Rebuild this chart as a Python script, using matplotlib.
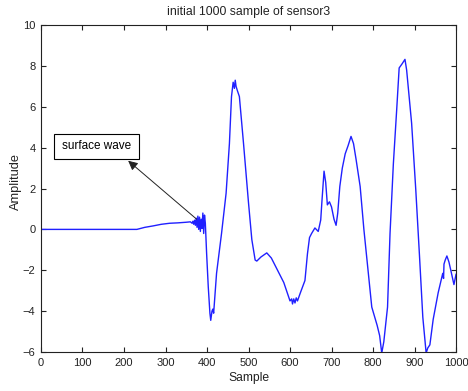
import matplotlib
matplotlib.use("Agg")
import matplotlib.pyplot as plt
from matplotlib.patches import Rectangle

plt.rcParams['font.family'] = ['Liberation Sans', 'DejaVu Sans']

title = "initial 1000 sample of sensor3"
xlabel = "Sample"
ylabel = "Amplitude"
annot_text = "surface wave"

sample = [0, 231, 250, 270, 290, 310, 330, 350, 360, 364, 366, 368, 370, 372, 374,
          376, 378, 380, 382, 384, 386, 388, 390, 392, 394, 396, 399, 403, 407, 409,
          412, 414, 416, 423, 435, 446, 454, 459, 463, 466, 468, 470, 473, 478, 488,
          500, 508, 516, 520, 530, 544, 555, 570, 585, 595, 600, 604, 606, 609, 612,
          615, 618, 625, 636, 642, 647, 652, 660, 668, 674, 677, 682, 686, 690, 695,
          700, 706, 711, 715, 720, 726, 733, 740, 747, 753, 759, 769, 778, 788, 797,
          810, 816, 821, 826, 835, 841, 849, 857, 863, 870, 877, 881, 893, 903, 912,
          920, 928, 932, 937, 945, 957, 968, 970, 971, 974, 978, 983, 987, 995, 1000]
amplitude = [0.0, 0.0, 0.1, 0.17, 0.25, 0.3, 0.32, 0.35, 0.37, 0.3, 0.4, 0.25, 0.45, 0.2, 0.55,
             0.1, 0.65, 0.0, 0.6, -0.1, 0.5, 0.05, 0.8, -0.2, 0.7, 0.3, -1.15, -2.8, -4.1, -4.45,
             -4.0, -3.9, -4.1, -2.15, -0.2, 1.77, 4.2, 6.5, 7.2, 6.9, 7.3, 7.0, 6.8, 6.5, 4.2,
             1.3, -0.5, -1.5, -1.55, -1.35, -1.15, -1.4, -2.0, -2.6, -3.2, -3.5, -3.4, -3.65, -3.4, -3.6,
             -3.35, -3.5, -3.1, -2.5, -1.2, -0.4, -0.2, 0.07, -0.1, 0.46, 1.4, 2.85, 2.3, 1.2, 1.35,
             1.1, 0.5, 0.2, 0.8, 2.1, 3.0, 3.7, 4.1, 4.55, 4.2, 3.45, 2.1, 0.0, -2.0, -3.8,
             -4.7, -5.2, -6.05, -5.5, -3.8, -0.2, 3.2, 5.84, 7.9, 8.1, 8.32, 7.8, 5.2, 1.95, -1.3,
             -4.3, -6.05, -5.8, -5.65, -4.4, -3.1, -2.15, -2.4, -1.7, -1.5, -1.3, -1.6, -1.96, -2.7, -2.2]

fig = plt.figure(figsize=(4.68, 3.91), dpi=100, facecolor='white')
ax = fig.add_axes([0.0876, 0.0997, 0.9744 - 0.0876, 0.936 - 0.0997])
ax.plot(sample, amplitude, color='#2020ff', linewidth=1.0)
ax.set_xlim(0, 1000)
ax.set_ylim(-6, 10)
ax.set_xticks(range(0, 1001, 100))
ax.set_yticks(range(-6, 11, 2))
ax.tick_params(direction='in', top=True, right=True, length=3.5, width=0.8,
               labelsize=8, colors='#222222')
ax.tick_params(axis='x', pad=4)
ax.tick_params(axis='y', pad=4)
for s in ax.spines.values():
    s.set_linewidth(0.8)
    s.set_color('#222222')
ax.set_title(title, fontsize=8.8, pad=7, color='#222222')
ax.set_xlabel(xlabel, fontsize=8.7, labelpad=3, color='#222222')
ax.set_ylabel(ylabel, fontsize=9.2, color='#222222')
ax.yaxis.set_label_coords(-0.047, 0.52)

# annotation box and arrow
ax.add_patch(Rectangle((31, 3.44), 205, 1.23, facecolor='white', edgecolor='black',
                       linewidth=0.8, zorder=5))
ax.text(133.5, 4.06, annot_text, ha='center', va='center', fontsize=8.5, zorder=6)
ax.annotate('', xy=(210, 3.36), xytext=(375, 0.5),
            arrowprops=dict(arrowstyle='-|>', color='#222222', lw=0.7,
                            mutation_scale=14, shrinkA=0, shrinkB=0))

fig.savefig('out.png', dpi=100, facecolor='white')
